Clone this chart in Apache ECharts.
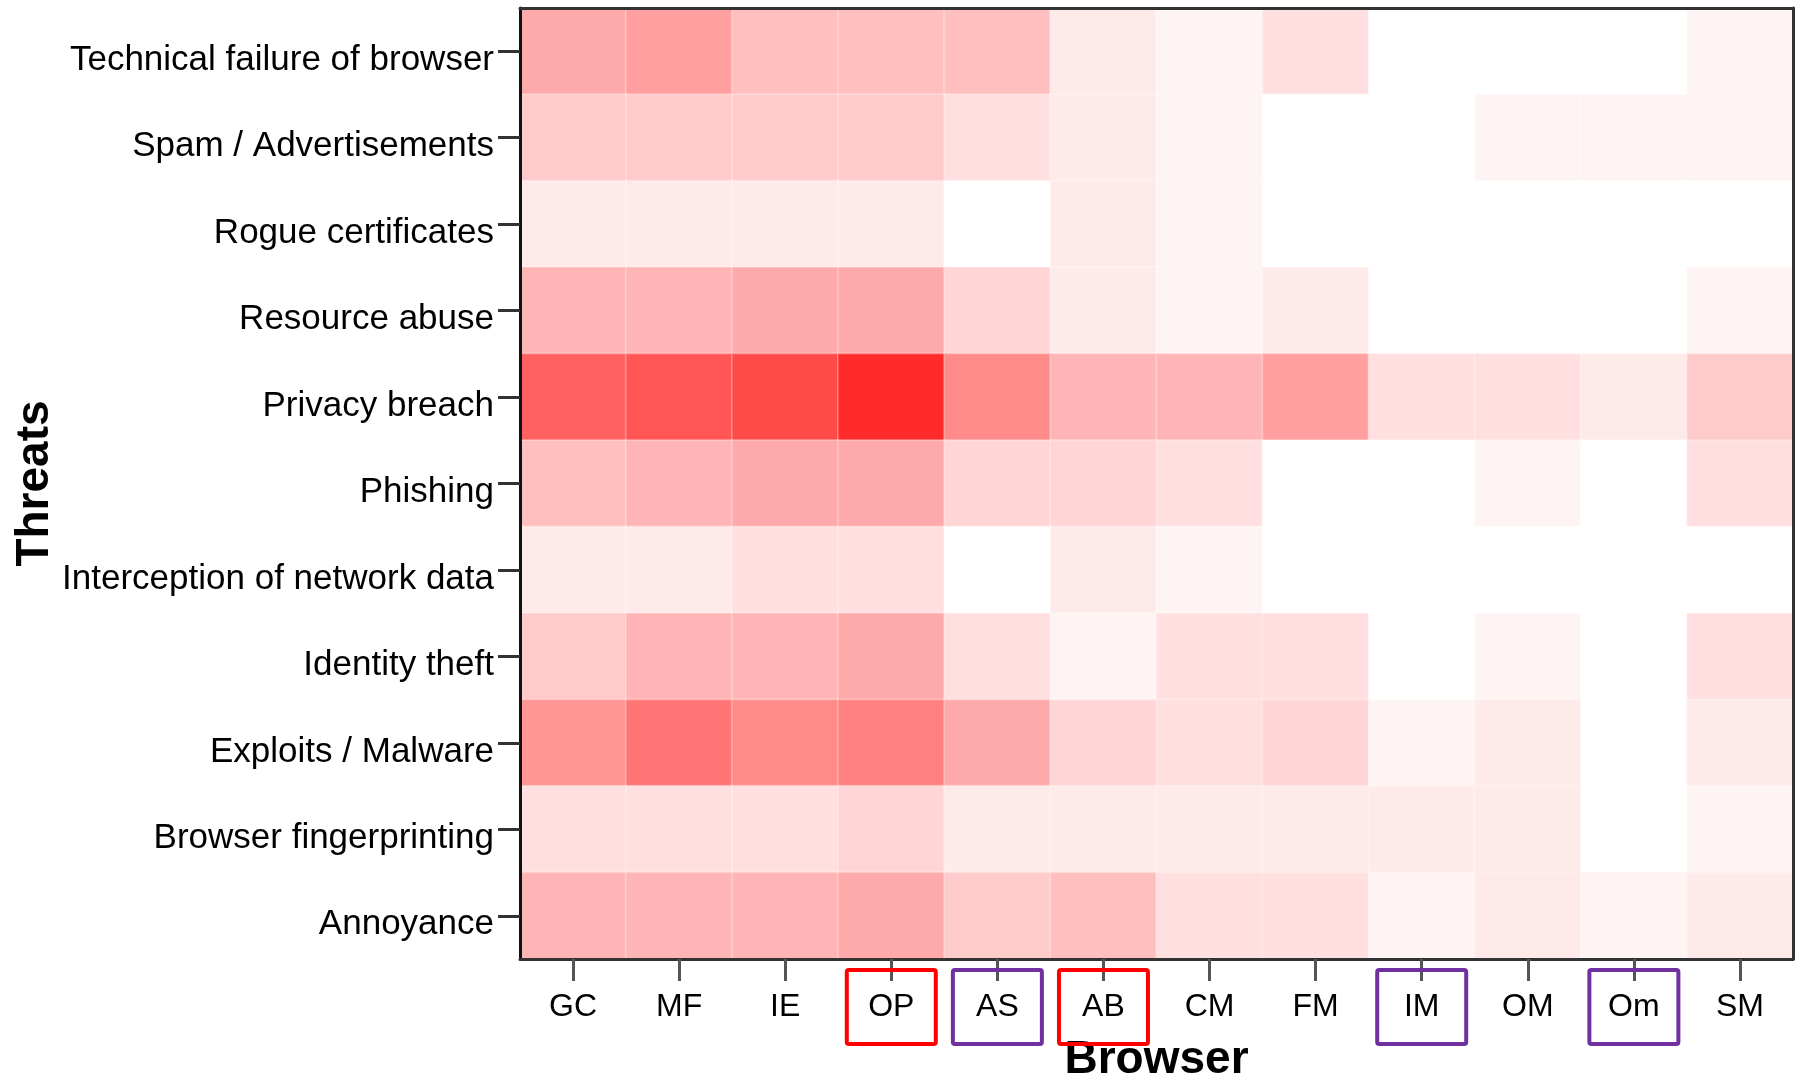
<!DOCTYPE html>
<html>
<head>
<meta charset="utf-8">
<script src="https://cdn.jsdelivr.net/npm/echarts@6/dist/echarts.min.js"></script>
<style>
html,body{margin:0;padding:0;background:#fff;}
#chart{width:1796px;height:1078px;}
</style>
</head>
<body>
<div id="chart"></div>
<script>
// Categories
const browsers = ['GC', 'MF', 'IE', 'OP', 'AS', 'AB', 'CM', 'FM', 'IM', 'OM', 'Om', 'SM'];
const threats = [
  'Technical failure of browser',
  'Spam / Advertisements',
  'Rogue certificates',
  'Resource abuse',
  'Privacy breach',
  'Phishing',
  'Interception of network data',
  'Identity theft',
  'Exploits / Malware',
  'Browser fingerprinting',
  'Annoyance'
];
// Highlighted browser labels
const redBoxed = ['OP', 'AB'];
const purpleBoxed = ['AS', 'IM', 'Om'];

// Values per threat (one value per browser, in browser order)
const technicalFailure  = [8, 9, 6, 6, 6, 2, 1, 3, 0, 0, 0, 1];
const spamAds           = [5, 5, 5, 5, 3, 2, 1, 0, 0, 1, 1, 1];
const rogueCertificates = [2, 2, 2, 2, 0, 2, 1, 0, 0, 0, 0, 0];
const resourceAbuse     = [7, 7, 8, 8, 4, 2, 1, 2, 0, 0, 0, 1];
const privacyBreach     = [15, 16, 17, 20, 11, 7, 7, 9, 3, 3, 2, 5];
const phishing          = [6, 7, 8, 8, 4, 4, 3, 0, 0, 1, 0, 3];
const interception      = [2, 2, 3, 3, 0, 2, 1, 0, 0, 0, 0, 0];
const identityTheft     = [5, 7, 7, 8, 3, 1, 3, 3, 0, 1, 0, 3];
const exploitsMalware   = [10, 13, 11, 12, 8, 4, 3, 4, 1, 2, 0, 2];
const fingerprinting    = [3, 3, 3, 4, 2, 2, 2, 2, 2, 2, 0, 1];
const annoyance         = [7, 7, 7, 8, 5, 6, 3, 3, 1, 2, 1, 2];

const rows = [technicalFailure, spamAds, rogueCertificates, resourceAbuse, privacyBreach,
  phishing, interception, identityTheft, exploitsMalware, fingerprinting, annoyance];

const data = [];
rows.forEach((row, yi) => row.forEach((v, xi) => data.push([xi, yi, v])));

const chart = echarts.init(document.getElementById('chart'), null, {renderer: 'canvas'});
const FONT = '"Liberation Sans", Arial, sans-serif';
const boxBase = {width: 89, height: 74, lineHeight: 74, align: 'center', fontSize: 32, color: '#000', fontFamily: FONT};

chart.setOption({
  backgroundColor: '#fff',
  animation: false,
  grid: {left: 520, right: 3, top: 8, bottom: 119, containLabel: false, outerBoundsMode: 'none'},
  visualMap: {show: false, min: 0, max: 24, dimension: 2, inRange: {color: ['#ffffff', '#ff0000']}},
  xAxis: [{
    type: 'category',
    data: browsers,
    position: 'bottom',
    z: 10,
    name: 'Browser',
    nameLocation: 'middle',
    nameGap: 78,
    nameMoveOverlap: false,
    nameTextStyle: {fontSize: 46, fontWeight: 'bold', color: '#000', fontFamily: FONT},
    axisLine: {show: true, lineStyle: {color: '#333', width: 3}},
    axisTick: {show: true, alignWithLabel: true, length: 22, lineStyle: {color: '#555', width: 3}},
    splitLine: {show: false},
    axisLabel: {
      interval: 0,
      margin: 11,
      formatter: function (v) {
        if (redBoxed.indexOf(v) >= 0) return '{r|' + v + '}';
        if (purpleBoxed.indexOf(v) >= 0) return '{p|' + v + '}';
        return '{n|' + v + '}';
      },
      rich: {
        n: Object.assign({}, boxBase),
        r: Object.assign({}, boxBase, {borderColor: '#ff0000', borderWidth: 4, borderRadius: 2}),
        p: Object.assign({}, boxBase, {borderColor: '#7030a0', borderWidth: 4, borderRadius: 2})
      }
    }
  }, {
    type: 'category',
    data: browsers,
    position: 'top',
    z: 10,
    axisLine: {show: true, lineStyle: {color: '#333', width: 3}},
    axisTick: {show: false},
    axisLabel: {show: false},
    splitLine: {show: false}
  }],
  yAxis: [{
    type: 'category',
    data: threats,
    inverse: true,
    position: 'left',
    z: 10,
    name: 'Threats',
    nameLocation: 'middle',
    nameRotate: 90,
    nameGap: 462,
    nameMoveOverlap: false,
    nameTextStyle: {fontSize: 46, fontWeight: 'bold', color: '#000', fontFamily: FONT},
    axisLine: {show: true, lineStyle: {color: '#111', width: 3}},
    axisTick: {show: true, alignWithLabel: true, length: 22, lineStyle: {color: '#333', width: 3}},
    splitLine: {show: false},
    axisLabel: {interval: 0, margin: 26, fontSize: 35, color: '#000', fontFamily: FONT, verticalAlign: 'top', lineHeight: 18}
  }, {
    type: 'category',
    data: threats,
    inverse: true,
    position: 'right',
    z: 10,
    axisLine: {show: true, lineStyle: {color: '#333', width: 3}},
    axisTick: {show: false},
    axisLabel: {show: false},
    splitLine: {show: false}
  }],
  series: [{
    type: 'heatmap',
    xAxisIndex: 0,
    yAxisIndex: 0,
    data: data,
    itemStyle: {borderColor: 'rgba(255,255,255,0.22)', borderWidth: 2},
    emphasis: {disabled: true}
  }]
});
</script>
</body>
</html>
